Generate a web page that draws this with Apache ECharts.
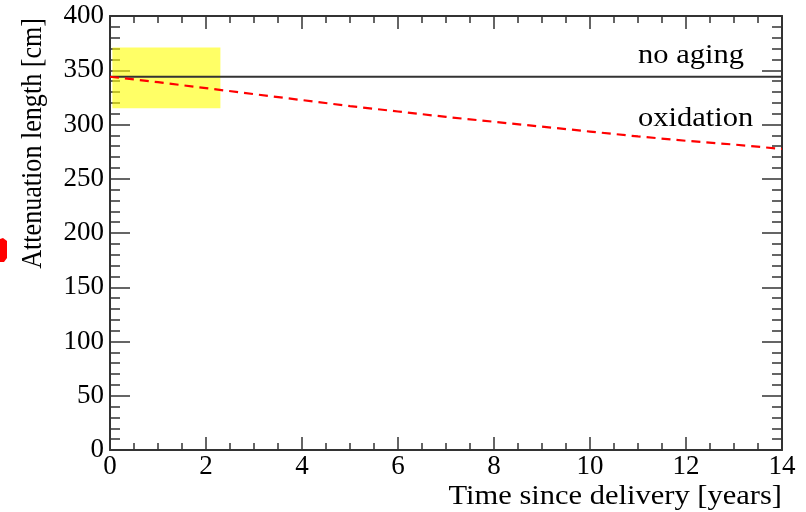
<!DOCTYPE html>
<html><head><meta charset="utf-8">
<script src="https://cdn.jsdelivr.net/npm/echarts@6/dist/echarts.min.js"></script>
<style>html,body{margin:0;padding:0;background:#fff}#c{width:806px;height:512px}</style>
</head><body><div id="c"></div>
<script>
// Data
const years = [0,1,2,3,4,5,6,7,8,9,10,11,12,13,14];
const noAging = [344,344,344,344,344,344,344,344,344,344,344,344,344,344,344];
const oxidation = [344,339,333.5,328,322.5,317,312,307,302.5,298,293.5,289,285,281.5,277.5];
const bandX = [0.05, 2.3];
const bandY = [315, 371];
const seriesLabels = ['no aging','oxidation'];
const xTitle = 'Time since delivery [years]';
const yTitle = 'Attenuation length [cm]';

const F = '"Liberation Serif","Times New Roman",serif';
const AX = '#333';
const chart = echarts.init(document.getElementById('c'), null, {renderer:'canvas'});
const axisCommon = {
  type:'value',
  axisLine:{show:true, onZero:false, lineStyle:{color:AX, width:2}},
  splitLine:{show:false},
};
chart.setOption({
  animation:false,
  backgroundColor:'#fff',
  grid:{left:110, right:24, top:16, bottom:62, containLabel:false},
  xAxis:[
    Object.assign({}, axisCommon, {min:0, max:14, interval:2, position:'bottom',
      axisTick:{show:true, inside:true, length:13, lineStyle:{color:AX, width:1.5}},
      minorTick:{show:true, splitNumber:4, length:7, lineStyle:{color:AX, width:1.5}},
      axisLabel:{color:'#000', fontFamily:F, fontSize:27, margin:3}}),
    Object.assign({}, axisCommon, {min:0, max:14, interval:2, position:'top',
      axisTick:{show:true, inside:true, length:13, lineStyle:{color:AX, width:1.5}},
      minorTick:{show:true, splitNumber:4, length:7, lineStyle:{color:AX, width:1.5}},
      axisLabel:{show:false}})
  ],
  yAxis:[
    Object.assign({}, axisCommon, {min:0, max:400, interval:50, position:'left',
      axisTick:{show:true, inside:true, length:20, lineStyle:{color:AX, width:1.5}},
      minorTick:{show:true, splitNumber:5, length:10, lineStyle:{color:AX, width:1.5}},
      axisLabel:{color:'#000', fontFamily:F, fontSize:27, margin:6}}),
    Object.assign({}, axisCommon, {min:0, max:400, interval:50, position:'right',
      axisTick:{show:true, inside:true, length:20, lineStyle:{color:AX, width:1.5}},
      minorTick:{show:true, splitNumber:5, length:10, lineStyle:{color:AX, width:1.5}},
      axisLabel:{show:false}})
  ],
  series:[
    {name:seriesLabels[0], type:'line', data: years.map((x,i)=>[x,noAging[i]]), showSymbol:false,
      lineStyle:{color:'#333', width:2}, z:2},
    {name:seriesLabels[1], type:'line', data: years.map((x,i)=>[x,oxidation[i]]), showSymbol:false,
      lineStyle:{color:'#ff0000', width:2.2, type:[9,6]}, z:2},
    {type:'line', data:[], z:5,
      markArea:{silent:true, itemStyle:{color:'rgba(255,255,0,0.6)'},
        data:[[{xAxis:bandX[0], yAxis:bandY[0]},{xAxis:bandX[1], yAxis:bandY[1]}]]}}
  ],
  graphic:[
    {type:'text', x:638, y:56, scaleX:1.13, style:{text:seriesLabels[0], font:'27px '+F, fill:'#000', align:'left', verticalAlign:'middle'}},
    {type:'text', x:638, y:119, scaleX:1.13, style:{text:seriesLabels[1], font:'27px '+F, fill:'#000', align:'left', verticalAlign:'middle'}},
    {type:'text', x:782, y:497, scaleX:1.13, style:{text:xTitle, font:'27px '+F, fill:'#000', align:'right', verticalAlign:'middle'}},
    {type:'text', x:33, y:18, rotation:Math.PI/2, scaleX:0.87, style:{text:yTitle, font:'30px '+F, fill:'#000', align:'right', verticalAlign:'middle'}},
    {type:'polygon', shape:{points:[[0,239],[3,238],[7,241],[7,258],[4,262],[0,262]]}, style:{fill:'#ff0000'}}
  ]
});
</script></body></html>
